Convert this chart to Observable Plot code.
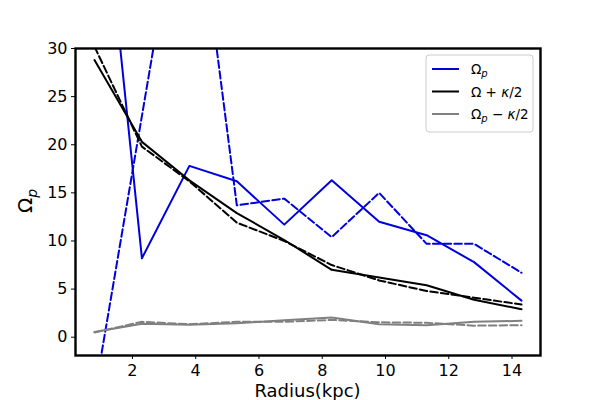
<!DOCTYPE html>
<html>
<head>
<meta charset="utf-8">
<script src="https://cdn.jsdelivr.net/npm/d3@7"></script>
<script src="https://cdn.jsdelivr.net/npm/@observablehq/plot@0.6"></script>
<style>
  html, body { margin: 0; padding: 0; background: white; }
  #chart { width: 600px; height: 400px; }
</style>
</head>
<body>
<div id="chart"></div>
<script>
// Data
const radius = [0.8, 2.3, 3.8, 5.3, 6.8, 8.3, 9.8, 11.3, 12.8, 14.3];
const omegaPSolid  = [56, 8.2, 17.8, 16.2, 11.7, 16.3, 12.0, 10.6, 7.8, 3.8];
const omegaPDashed = [-6, 23, 52, 13.7, 14.4, 10.4, 15.0, 9.7, 9.7, 6.7];
const omegaPlusSolid  = [28.8, 20.3, 16.3, 12.9, 10.1, 7.0, 6.2, 5.4, 3.9, 2.9];
const omegaPlusDashed = [30.2, 19.8, 16.2, 11.9, 10.0, 7.5, 5.9, 4.8, 4.1, 3.4];
const omegaMinusSolid  = [0.55, 1.4, 1.3, 1.45, 1.75, 2.05, 1.35, 1.25, 1.6, 1.7];
const omegaMinusDashed = [0.5, 1.6, 1.35, 1.6, 1.6, 1.8, 1.55, 1.5, 1.2, 1.25];
const xTicks = [2, 4, 6, 8, 10, 12, 14];
const yTicks = [0, 5, 10, 15, 20, 25, 30];

const BLUE = "#0000dd", BLACK = "#000000", GREY = "#808080";
const DASH = "7.5,3.2";
const series = [
  {key: "pS", values: omegaPSolid, color: BLUE, dash: null},
  {key: "pD", values: omegaPDashed, color: BLUE, dash: DASH},
  {key: "kS", values: omegaPlusSolid, color: BLACK, dash: null},
  {key: "kD", values: omegaPlusDashed, color: BLACK, dash: DASH},
  {key: "mS", values: omegaMinusSolid, color: GREY, dash: null},
  {key: "mD", values: omegaMinusDashed, color: GREY, dash: DASH}
];

const lineMarks = series.map(s => Plot.line(
  radius.map((r, i) => ({r, v: s.values[i]})),
  {x: "r", y: "v", stroke: s.color, strokeWidth: 2, strokeDasharray: s.dash, clip: true}
));

const chart = Plot.plot({
  width: 600,
  height: 400,
  marginLeft: 75,
  marginRight: 60,
  marginTop: 48,
  marginBottom: 45,
  style: {fontFamily: "DejaVu Sans", fontSize: "16px", background: "white", color: "black"},
  x: {domain: [0.2, 14.9]},
  y: {domain: [-1.9, 30]},
  marks: [
    ...lineMarks,
    Plot.frame({stroke: "black", strokeWidth: 2.4}),
    Plot.axisX({ticks: xTicks, tickSize: 4, tickPadding: 5, label: null, fontSize: 16}),
    Plot.axisY({ticks: yTicks, tickSize: 4, tickPadding: 4, label: null, fontSize: 16})
  ]
});
document.getElementById("chart").appendChild(chart);

const svg = d3.select(chart);
// X axis label
svg.append("text")
  .attr("x", 307.5).attr("y", 396.5)
  .attr("text-anchor", "middle")
  .style("font-family", "DejaVu Sans").style("font-size", "18px")
  .text("Radius(kpc)");
// Y axis label
const yl = svg.append("text")
  .attr("transform", "translate(32,201) rotate(-90)")
  .attr("text-anchor", "middle")
  .style("font-family", "DejaVu Sans").style("font-size", "20px");
yl.append("tspan").text("Ω");
yl.append("tspan").attr("dy", 5).style("font-size", "14px").style("font-style", "italic").text("p");

// Legend
const lg = svg.append("g").attr("transform", "translate(426,55)");
lg.append("rect").attr("width", 107).attr("height", 77).attr("rx", 3)
  .attr("fill", "white").attr("fill-opacity", 0.8).attr("stroke", "#cccccc");
const entries = [
  {color: BLUE, parts: [["Ω", false, false], ["p", true, true]]},
  {color: BLACK, parts: [["Ω + ", false, false], ["κ", true, false], ["/2", false, false]]},
  {color: GREY, parts: [["Ω", false, false], ["p", true, true], [" − ", false, false], ["κ", true, false], ["/2", false, false]]}
];
entries.forEach((e, i) => {
  const y = 14 + i * 22.5;
  lg.append("line").attr("x1", 6).attr("x2", 33).attr("y1", y).attr("y2", y)
    .attr("stroke", e.color).attr("stroke-width", 2);
  const t = lg.append("text").attr("x", 45).attr("y", y + 5)
    .attr("text-anchor", "start")
    .style("font-family", "DejaVu Sans").style("font-size", "13.5px");
  e.parts.forEach(([s, ital, sub], j) => {
    const ts = t.append("tspan").text(s);
    if (ital) ts.style("font-style", "italic");
    if (sub) ts.attr("dy", 3).style("font-size", "10px");
    else if (j > 0 && e.parts[j - 1][2]) ts.attr("dy", -3);
  });
});
</script>
</body>
</html>
